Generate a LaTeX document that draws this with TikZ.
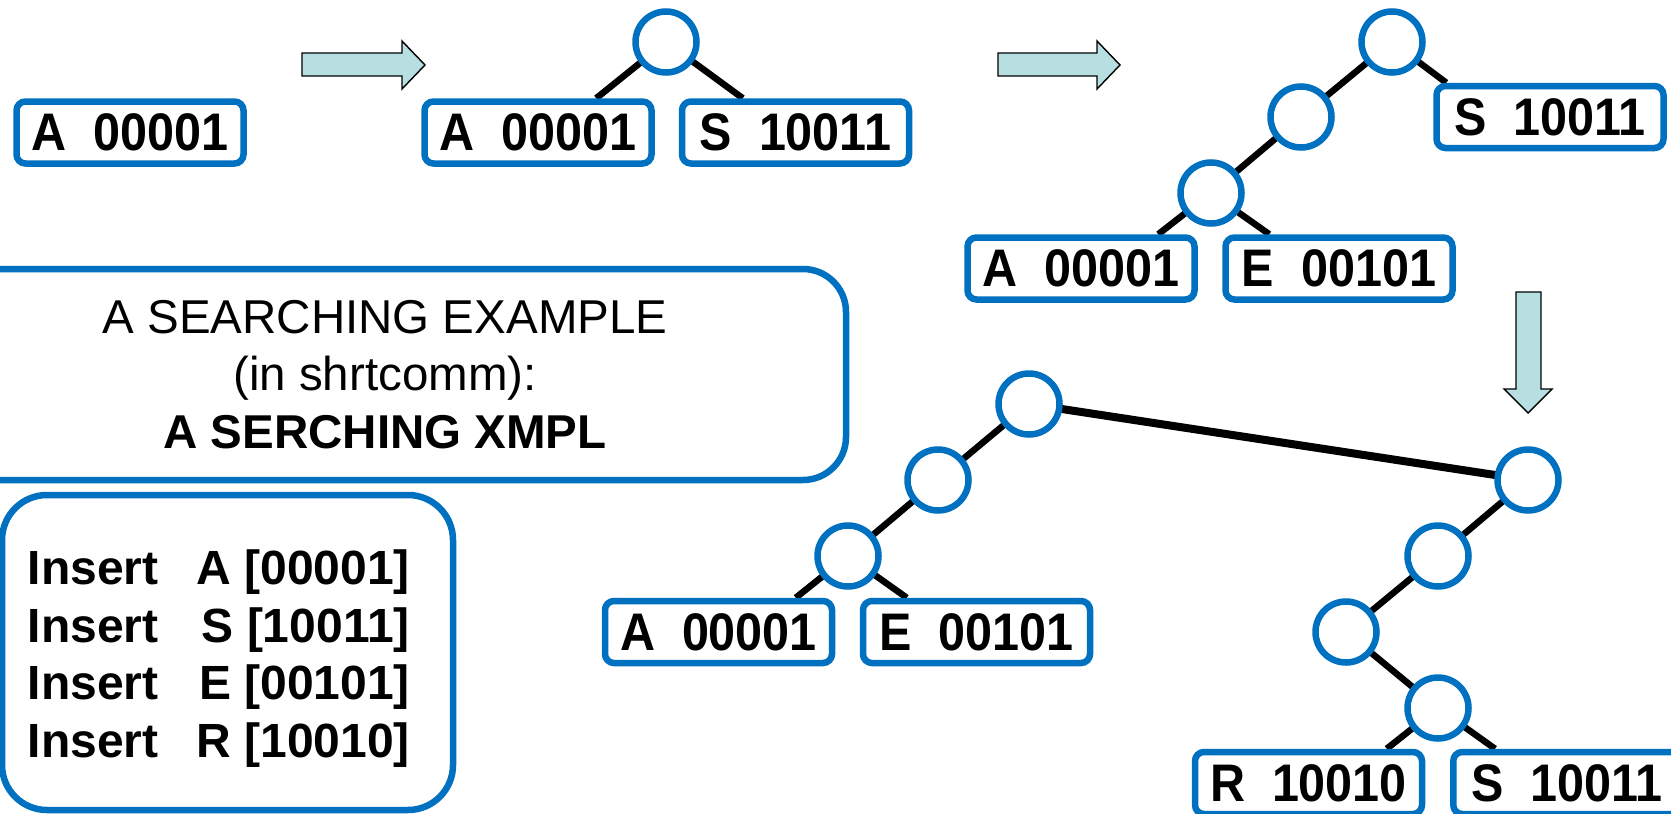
\documentclass[tikz,border=0pt]{standalone}
\usepackage{graphicx}
\usepackage{fontspec}
\setmainfont{Liberation Sans}
\usetikzlibrary{backgrounds}
\definecolor{nblue}{RGB}{0,112,192}
\definecolor{arrowfill}{RGB}{183,222,224}
\newcommand\lbl[2]{\scalebox{1}[1.09]{#1\hspace{0.556em}#2}}
\begin{document}
\begin{tikzpicture}[x=1pt,y=-1pt,
  leaf/.style={draw=nblue, line width=6.5pt, rounded corners=9pt, fill=white,
    minimum width=227pt, minimum height=62pt, inner sep=0pt,
    font=\bfseries\fontsize{48.5}{50}\selectfont},
  inode/.style={circle, draw=nblue, line width=6.5pt, fill=white, minimum size=61pt, inner sep=0pt},
  edge/.style={line width=6.5pt, black},
  thickedge/.style={line width=8pt, black},
  fatarrow/.style={fill=arrowfill, draw=black, line width=1.4pt, line join=miter},
  panel/.style={draw=nblue, line width=6.5pt, inner sep=0pt}
]
\clip (0,0) rectangle (1671,814);

% ---- panels
\node[panel, rounded corners=43pt, minimum width=922pt, minimum height=211pt, align=center,
  font=\fontsize{47.5}{57.5}\selectfont] (title) at (385,374.5)
  {A SEARCHING EXAMPLE\\(in shrtcomm):\\\textbf{A SERCHING XMPL}};
\node[panel, rounded corners=45pt, minimum width=451pt, minimum height=315pt] (insbox) at (227.5,652.5) {};
\node[anchor=base west, inner sep=0pt, font=\bfseries\fontsize{48}{57.5}\selectfont] (instext) at (27.5,584.5)
  {\begin{tabular}[t]{@{}l@{\hspace{38pt}}r@{}}
   Insert & A [00001]\\
   Insert & S [10011]\\
   Insert & E [00101]\\
   Insert & R [10010]
   \end{tabular}};

% ---- arrows
\draw[fatarrow] (302,53) -- (402,53) -- (402,41) -- (425,65) -- (402,89) -- (402,76) -- (302,76) -- cycle;
\draw[fatarrow] (998,53) -- (1097,53) -- (1097,41) -- (1120,65) -- (1097,89) -- (1097,76) -- (998,76) -- cycle;
\draw[fatarrow] (1516,292) -- (1541,292) -- (1541,389) -- (1552,389) -- (1528,413) -- (1504,389) -- (1516,389) -- cycle;

% ---- tree 1
\node[leaf] (b1a) at (130,132.5) {\lbl{A}{00001}};

% ---- tree 2
\node[inode] (c2r) at (666,42) {};
\node[leaf] (b2a) at (538,132.5) {\lbl{A}{00001}};
\node[leaf] (b2s) at (795.5,132.5) {\lbl{S}{10011}};

% ---- tree 3
\node[inode] (c3r) at (1392,42) {};
\node[inode] (c3m) at (1301,117) {};
\node[inode] (c3l) at (1211,193) {};
\node[leaf] (b3s) at (1550,117) {\lbl{S}{10011}};
\node[leaf] (b3a) at (1081,268.5) {\lbl{A}{00001}};
\node[leaf] (b3e) at (1339,268.5) {\lbl{E}{00101}};

% ---- tree 4
\node[inode] (c4r) at (1029,404) {};
\node[inode] (c4m) at (938,480) {};
\node[inode] (c4l) at (848,556) {};
\node[leaf] (b4a) at (718.5,632) {\lbl{A}{00001}};
\node[leaf] (b4e) at (976.5,632) {\lbl{E}{00101}};
\node[inode] (r1) at (1528,480) {};
\node[inode] (r2) at (1438,556) {};
\node[inode] (r3) at (1346,632) {};
\node[inode] (r4) at (1438,708) {};
\node[leaf] (b4r) at (1308.5,783) {\lbl{R}{10010}};
\node[leaf] (b4s) at (1566.75,783) {\lbl{S}{10011}};

% ---- edges
\begin{pgfonlayer}{background}
\draw[edge] (c2r.center) -- ([xshift=175pt]b2a.north west);
\draw[edge] (c2r.center) -- ([xshift=64pt]b2s.north west);

\draw[edge] (c3r.center) -- (c3m.center);
\draw[edge] (c3m.center) -- (c3l.center);
\draw[edge] (c3r.center) -- ([xshift=13pt]b3s.north west);
\draw[edge] (c3l.center) -- ([xshift=194pt]b3a.north west);
\draw[edge] (c3l.center) -- ([xshift=47pt]b3e.north west);

\draw[edge] (c4r.center) -- (c4m.center);
\draw[edge] (c4m.center) -- (c4l.center);
\draw[edge] (c4l.center) -- ([xshift=194pt]b4a.north west);
\draw[edge] (c4l.center) -- ([xshift=47pt]b4e.north west);
\draw[thickedge] (c4r.center) -- (r1.center);
\draw[edge] (r1.center) -- (r2.center);
\draw[edge] (r2.center) -- (r3.center);
\draw[edge] (r3.center) -- (r4.center);
\draw[edge] (r4.center) -- ([xshift=195pt]b4r.north west);
\draw[edge] (r4.center) -- ([xshift=45pt]b4s.north west);
\end{pgfonlayer}
\end{tikzpicture}
\end{document}
